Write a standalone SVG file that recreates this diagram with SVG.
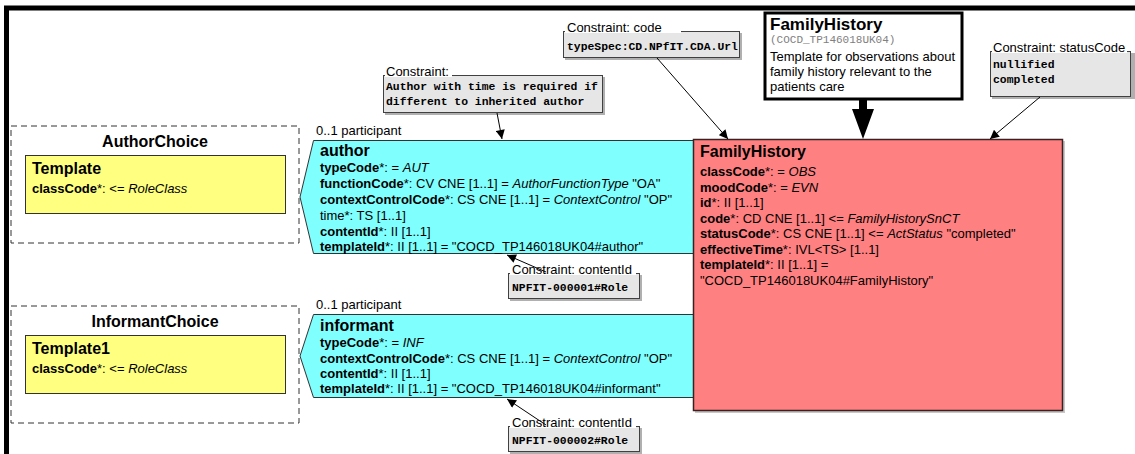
<svg xmlns="http://www.w3.org/2000/svg" width="1135" height="454" viewBox="0 0 1135 454">
<defs>
<style>
text{font-family:"Liberation Sans",Arial,sans-serif;font-size:13px;fill:#000}
.b{font-weight:bold}
.i{font-style:italic}
.h{font-weight:bold;font-size:16px}
.mono{font-family:"Liberation Mono","Courier New",monospace;font-size:11.4px;font-weight:bold}
.gray{font-family:"Liberation Mono","Courier New",monospace;font-size:11px;fill:#808080}
.cbox{fill:#e6e6e6;stroke:#404040;stroke-width:1}
.shadow{fill:#b0b0b0}
.lbg{fill:#fff}
.cyan{fill:#80ffff;stroke:#333;stroke-width:1}
.yellow{fill:#ffff80;stroke:#333;stroke-width:1}
.choice{fill:#fff;stroke:#333;stroke-width:1;stroke-dasharray:6,4}
.conn{stroke:#000;stroke-width:1;fill:none}
</style>
<marker id="arr" viewBox="0 0 10 10" refX="10" refY="5" markerWidth="10" markerHeight="9" markerUnits="userSpaceOnUse" orient="auto">
<path d="M0,0 L10,5 L0,10 Z" fill="#000"/>
</marker>
</defs>
<rect x="0" y="0" width="1135" height="454" fill="#fff"/>
<path d="M6.5,454 V8 H1135" fill="none" stroke="#000" stroke-width="5"/>

<g id="AuthorChoice">
<rect class="choice" x="11" y="126" width="288" height="117"/>
<text class="h" x="155" y="147" text-anchor="middle">AuthorChoice</text>
<rect class="yellow" x="25.5" y="155.5" width="260" height="58"/>
<text class="h" x="32" y="174">Template</text>
<text x="32" y="193"><tspan class="b">classCode</tspan>*: &lt;= <tspan class="i">RoleClass</tspan></text>
</g>

<g id="InformantChoice">
<rect class="choice" x="11" y="306" width="288" height="117"/>
<text class="h" x="155" y="327" text-anchor="middle">InformantChoice</text>
<rect class="yellow" x="25.5" y="335.5" width="260" height="58"/>
<text class="h" x="32" y="354">Template1</text>
<text x="32" y="373"><tspan class="b">classCode</tspan>*: &lt;= <tspan class="i">RoleClass</tspan></text>
</g>

<g id="author">
<text x="316" y="135">0..1 participant</text>
<path class="cyan" d="M313.5,140.5 H700 V253.5 H313.5 L300,197 Z"/>
<text class="h" x="320" y="156">author</text>
<text x="320" y="172"><tspan class="b">typeCode</tspan>*: = <tspan class="i">AUT</tspan></text>
<text x="320" y="188"><tspan class="b">functionCode</tspan>*: CV CNE [1..1] = <tspan class="i">AuthorFunctionType</tspan> "OA"</text>
<text x="320" y="204"><tspan class="b">contextControlCode</tspan>*: CS CNE [1..1] = <tspan class="i">ContextControl</tspan> "OP"</text>
<text x="320" y="220">time*: TS [1..1]</text>
<text x="320" y="236"><tspan class="b">contentId</tspan>*: II [1..1]</text>
<text x="320" y="251"><tspan class="b">templateId</tspan>*: II [1..1] = "COCD_TP146018UK04#author"</text>
</g>

<g id="informant">
<text x="316" y="309">0..1 participant</text>
<path class="cyan" d="M313.5,314.5 H700 V397.5 H313.5 L300,356 Z"/>
<text class="h" x="320" y="331">informant</text>
<text x="320" y="347"><tspan class="b">typeCode</tspan>*: = <tspan class="i">INF</tspan></text>
<text x="320" y="363"><tspan class="b">contextControlCode</tspan>*: CS CNE [1..1] = <tspan class="i">ContextControl</tspan> "OP"</text>
<text x="320" y="378"><tspan class="b">contentId</tspan>*: II [1..1]</text>
<text x="320" y="393"><tspan class="b">templateId</tspan>*: II [1..1] = "COCD_TP146018UK04#informant"</text>
</g>

<g id="FamilyHistory">
<rect x="695" y="141" width="370" height="272" fill="#c8c8c8"/>
<rect x="693.5" y="139.5" width="369" height="271" fill="#ff8080" stroke="#3a2020" stroke-width="1.5"/>
<text class="h" x="700" y="157">FamilyHistory</text>
<text x="700" y="176"><tspan class="b">classCode</tspan>*: = <tspan class="i">OBS</tspan></text>
<text x="700" y="191.5"><tspan class="b">moodCode</tspan>*: = <tspan class="i">EVN</tspan></text>
<text x="700" y="207"><tspan class="b">id</tspan>*: II [1..1]</text>
<text x="700" y="222.5"><tspan class="b">code</tspan>*: CD CNE [1..1] &lt;= <tspan class="i">FamilyHistorySnCT</tspan></text>
<text x="700" y="238"><tspan class="b">statusCode</tspan>*: CS CNE [1..1] &lt;= <tspan class="i">ActStatus</tspan> "completed"</text>
<text x="700" y="253.5"><tspan class="b">effectiveTime</tspan>*: IVL&lt;TS&gt; [1..1]</text>
<text x="700" y="269"><tspan class="b">templateId</tspan>*: II [1..1] =</text>
<text x="700" y="284.5">"COCD_TP146018UK04#FamilyHistory"</text>
</g>

<g id="FamilyHistoryHeader">
<rect x="765" y="13" width="197" height="86" fill="#fff" stroke="#000" stroke-width="3"/>
<text class="b" x="770" y="30" style="font-size:17px">FamilyHistory</text>
<text class="gray" x="770" y="43">(COCD_TP146018UK04)</text>
<text x="770" y="61">Template for observations about</text>
<text x="770" y="76">family history relevant to the</text>
<text x="770" y="91">patients care</text>
</g>

<g id="ConstraintAuthor">
<rect class="shadow" x="385" y="77" width="220" height="38"/>
<rect class="cbox" x="383.5" y="75.5" width="219" height="37"/>
<rect class="lbg" x="385" y="64" width="67" height="13"/>
<text x="386" y="76">Constraint:</text>
<text class="mono" x="386" y="90">Author with time is required if</text>
<text class="mono" x="386" y="105">different to inherited author</text>
</g>

<g id="ConstraintCode">
<rect class="shadow" x="565" y="33" width="177" height="27"/>
<rect class="cbox" x="563.5" y="31.5" width="176" height="26"/>
<rect class="lbg" x="565" y="20" width="116" height="13"/>
<text x="567" y="32">Constraint: code</text>
<text class="mono" x="567" y="50">typeSpec:CD.NPfIT.CDA.Url</text>
</g>

<g id="ConstraintStatusCode">
<rect class="shadow" x="992" y="53" width="143" height="46"/>
<rect class="cbox" x="990.5" y="51.5" width="140" height="45"/>
<rect class="lbg" x="992" y="40" width="135" height="13"/>
<text x="993" y="52">Constraint: statusCode</text>
<text class="mono" x="993" y="68">nullified</text>
<text class="mono" x="993" y="83">completed</text>
</g>

<g id="ConstraintContentId1">
<rect class="shadow" x="510" y="275" width="132" height="26"/>
<rect class="cbox" x="508.5" y="273.5" width="131" height="25"/>
<rect class="lbg" x="510" y="262" width="126" height="13"/>
<text x="512" y="274">Constraint: contentId</text>
<text class="mono" x="512" y="291">NPFIT-000001#Role</text>
</g>

<g id="ConstraintContentId2">
<rect class="shadow" x="510" y="428" width="132" height="26"/>
<rect class="cbox" x="508.5" y="426.5" width="131" height="25"/>
<rect class="lbg" x="510" y="415" width="126" height="13"/>
<text x="512" y="427">Constraint: contentId</text>
<text class="mono" x="512" y="444">NPFIT-000002#Role</text>
</g>

<g id="connectors">
<line class="conn" x1="497" y1="113" x2="502" y2="139" marker-end="url(#arr)"/>
<line class="conn" x1="657" y1="58" x2="728" y2="139" marker-end="url(#arr)"/>
<line class="conn" x1="1040" y1="97" x2="990" y2="139" marker-end="url(#arr)"/>
<line class="conn" x1="546" y1="272" x2="507" y2="255" marker-end="url(#arr)"/>
<line class="conn" x1="546" y1="425" x2="507" y2="399" marker-end="url(#arr)"/>
<path d="M859,100 H867 V109 H874 L863,139 L852,109 H859 Z" fill="#000"/>
</g>
</svg>
